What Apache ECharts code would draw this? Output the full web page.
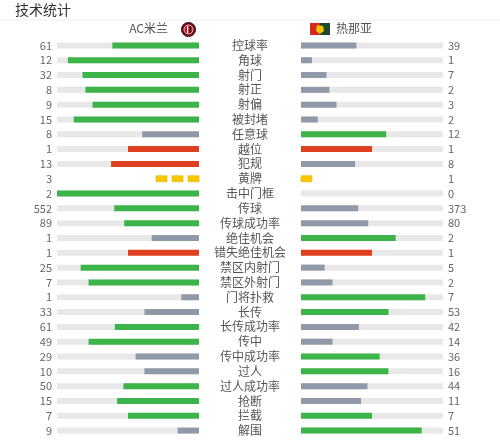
<!DOCTYPE html>
<html><head><meta charset="utf-8">
<script src="https://cdn.jsdelivr.net/npm/echarts@6/dist/echarts.min.js"></script>
<style>html,body{margin:0;padding:0;background:#fff}#c{width:500px;height:440px}</style>
</head><body><div id="c"></div>
<script>
const chartTitle = '技术统计';
const homeTeam = 'AC米兰';
const awayTeam = '热那亚';
const categories = ['控球率','角球','射门','射正','射偏','被封堵','任意球','越位','犯规','黄牌','击中门框','传球','传球成功率','绝佳机会','错失绝佳机会','禁区内射门','禁区外射门','门将扑救','长传','长传成功率','传中','传中成功率','过人','过人成功率','抢断','拦截','解围'];
const homeValues = [61,12,32,8,9,15,8,1,13,3,2,552,89,1,1,25,7,1,33,61,49,29,10,50,15,7,9];
const awayValues = [39,1,7,2,3,2,12,1,8,1,0,373,80,2,1,5,2,7,53,42,14,36,16,44,11,7,51];
const negativeStats = ['越位','犯规','错失绝佳机会'];
const cardStats = ['黄牌'];

const GREEN = '#3cb44a', GRAY = '#9199a9', RED = '#e0401f', TRACK = '#e8e8e8', YELLOW = '#f8c700';
const FONT = '"Noto Sans CJK SC", "Noto Sans", sans-serif';

function colorFor(mine, other, cat) {
  const neg = negativeStats.includes(cat);
  if (mine >= other) return neg ? RED : GREEN;
  return GRAY;
}
const isCard = c => cardStats.includes(c);
const share = (a, b) => (a + b) > 0 ? a / (a + b) : 0;

const leftTrack = categories.map(c => isCard(c) ? '-' : 1);
const rightTrack = leftTrack.slice();
const leftBars = categories.map((c, i) => isCard(c) ? '-' : {
  value: share(homeValues[i], awayValues[i]),
  itemStyle: { color: colorFor(homeValues[i], awayValues[i], c) }
});
const rightBars = categories.map((c, i) => isCard(c) ? '-' : {
  value: share(awayValues[i], homeValues[i]),
  itemStyle: { color: colorFor(awayValues[i], homeValues[i], c) }
});
const homeCards = [], awayCards = [];
categories.forEach((c, i) => {
  if (isCard(c)) { homeCards.push([0, i, homeValues[i]]); awayCards.push([0, i, awayValues[i]]); }
});

function cardRenderer(dir) {
  return function (params, api) {
    const p = api.coord([api.value(0), api.value(1)]);
    const n = api.value(2);
    const children = [];
    for (let k = 0; k < n; k++) {
      const x = dir < 0 ? p[0] - 11 - k * 16 : p[0] + k * 16;
      children.push({ type: 'rect', shape: { x: x, y: p[1] - 3, width: 11, height: 6 },
        style: { fill: YELLOW, stroke: '#e9b200', lineWidth: 0.6 } });
    }
    return { type: 'group', children: children };
  };
}

const gridTop = 38, gridHeight = 400;
const chart = echarts.init(document.getElementById('c'), null, { renderer: 'canvas' });
const hidden = { axisLine: { show: false }, axisTick: { show: false }, splitLine: { show: false } };
chart.setOption({
  animation: false,
  backgroundColor: '#fff',
  grid: [
    { left: 57, width: 142, top: gridTop, height: gridHeight, containLabel: false, outerBoundsMode: 'none' },
    { left: 301, width: 142, top: gridTop, height: gridHeight, containLabel: false, outerBoundsMode: 'none' }
  ],
  xAxis: [
    Object.assign({ type: 'value', gridIndex: 0, min: 0, max: 1, inverse: true, show: false }, hidden),
    Object.assign({ type: 'value', gridIndex: 1, min: 0, max: 1, show: false }, hidden)
  ],
  yAxis: [
    Object.assign({ type: 'category', gridIndex: 0, inverse: true, position: 'left', data: categories,
      axisLabel: { interval: 0, margin: 5, color: '#666', fontSize: 11, fontFamily: FONT,
        formatter: (v, i) => String(homeValues[i]) } }, hidden),
    Object.assign({ type: 'category', gridIndex: 0, inverse: true, position: 'right', data: categories,
      axisLabel: { interval: 0, margin: 51, align: 'center', color: '#555', fontSize: 12, fontFamily: FONT } }, hidden),
    Object.assign({ type: 'category', gridIndex: 1, inverse: true, position: 'right', data: categories,
      axisLabel: { interval: 0, margin: 5, align: 'left', color: '#666', fontSize: 11, fontFamily: FONT,
        formatter: (v, i) => String(awayValues[i]) } }, hidden)
  ],
  series: [
    { type: 'bar', xAxisIndex: 0, yAxisIndex: 0, data: leftTrack, barWidth: 6, silent: true,
      itemStyle: { color: TRACK } },
    { type: 'bar', xAxisIndex: 0, yAxisIndex: 0, data: leftBars, barWidth: 6, barGap: '-100%', silent: true },
    { type: 'bar', xAxisIndex: 1, yAxisIndex: 2, data: rightTrack, barWidth: 6, silent: true,
      itemStyle: { color: TRACK } },
    { type: 'bar', xAxisIndex: 1, yAxisIndex: 2, data: rightBars, barWidth: 6, barGap: '-100%', silent: true },
    { type: 'custom', xAxisIndex: 0, yAxisIndex: 0, data: homeCards, renderItem: cardRenderer(-1),
      encode: { x: 0, y: 1 }, silent: true },
    { type: 'custom', xAxisIndex: 1, yAxisIndex: 2, data: awayCards, renderItem: cardRenderer(1),
      encode: { x: 0, y: 1 }, silent: true }
  ],
  graphic: [
    { type: 'text', left: 15, top: 3, style: { text: chartTitle, fill: '#333', fontSize: 14, fontFamily: FONT } },
    { type: 'line', shape: { x1: 0, y1: 20, x2: 500, y2: 20 }, style: { stroke: '#eeeeee', lineWidth: 1 } },
    { type: 'text', right: 500 - 168, top: 22, style: { text: homeTeam, fill: '#555', fontSize: 12, fontFamily: FONT } },
    { type: 'group', left: 181, top: 22, children: [
      { type: 'circle', shape: { cx: 7, cy: 7, r: 7 }, style: { fill: '#7a0c18', stroke: '#2a0a0a', lineWidth: 1 } },
      { type: 'circle', shape: { cx: 7, cy: 7, r: 4.5 }, style: { fill: '#c0182a', stroke: '#f4e4e4', lineWidth: 0.8 } },
      { type: 'rect', shape: { x: 5.5, y: 3.5, width: 1.2, height: 7 }, style: { fill: '#fff' } },
      { type: 'rect', shape: { x: 8, y: 3.5, width: 1.2, height: 7 }, style: { fill: '#111' } }
    ]},
    { type: 'group', left: 310, top: 23, children: [
      { type: 'rect', shape: { x: 0, y: 0, width: 10, height: 12 }, style: { fill: '#d6281e' } },
      { type: 'rect', shape: { x: 10, y: 0, width: 10, height: 12 }, style: { fill: '#1f4a2a' } },
      { type: 'polygon', shape: { points: [[7, 2], [13, 3], [14, 8], [10, 11], [6, 8]] }, style: { fill: '#f2c400' } }
    ]},
    { type: 'text', left: 336, top: 22, style: { text: awayTeam, fill: '#555', fontSize: 12, fontFamily: FONT } }
  ]
});
</script>
</body></html>
